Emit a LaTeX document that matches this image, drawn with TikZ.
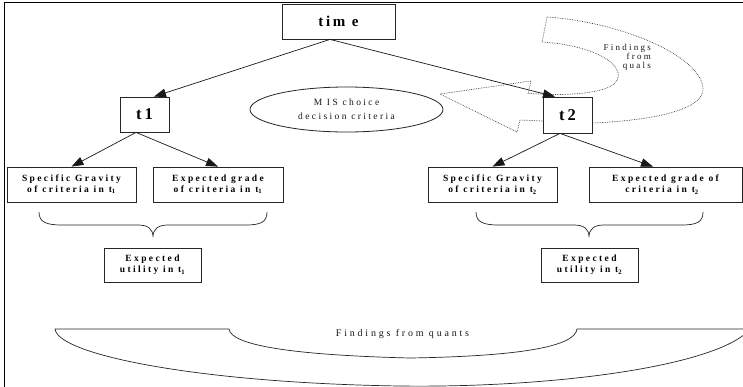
\documentclass[tikz,border=0pt]{standalone}
\usepackage{fontspec}
\setmainfont{Liberation Serif}
\newfontfamily\spfont[LetterSpace=25]{Liberation Serif}
\newfontfamily\spfontq[LetterSpace=28]{Liberation Serif}
\newfontfamily\spfontb[LetterSpace=18]{Liberation Serif}
\usetikzlibrary{arrows.meta,shapes.geometric}
\begin{document}
\begin{tikzpicture}[x=1pt,y=-1pt,
  box/.style={draw=black!85, line width=0.8pt, fill=white, inner sep=0pt, align=center,
    font=\spfont\bfseries\fontsize{9.5}{11}\selectfont, text=black},
  bigbox/.style={box, font=\spfontb\bfseries\fontsize{15}{16}\selectfont},
  tbox/.style={box, font=\spfontb\bfseries\fontsize{16.5}{17}\selectfont},
  arr/.style={-{Triangle[length=12pt,width=8.5pt]}, line width=0.7pt, black!90},
  lbl/.style={font=\spfont\fontsize{9.5}{14}\selectfont, text=black!90, align=center, inner sep=0pt},
  qual/.style={densely dotted, line width=0.7pt, black!75},
  curve/.style={line width=0.7pt, black!85}]
\clip (0,0) rectangle (743,386);
\fill[white] (0,0) rectangle (743,386);
\draw[line width=1.6pt] (4.5,2.5) rectangle (752,394);

% dotted curved block arrow (findings from quals)
\draw[qual] (547,17) -- (542,42)
  .. controls (590,45) and (622,62) .. (618,78)
  .. controls (614,92) and (580,95) .. (547,94.5)
  -- (528,93.3) -- (531,81) -- (440,94) -- (517,132) -- (520,120) -- (543,121)
  -- (593,123) .. controls (660,120) and (705,108) .. (703,88)
  .. controls (700,55) and (620,22) .. cycle;
\node[lbl, font=\spfont\fontsize{9}{13}\selectfont, align=right, anchor=east] (quals) at (651,57) {Findings\\[-4pt]from\\[-4pt]quals};

% nodes
\node[bigbox, minimum width=113pt, minimum height=35pt] (time) at (338.5,21.5) {tim e};
\node[tbox, minimum width=49pt, minimum height=35pt] (t1) at (144.5,114.5) {t1};
\node[tbox, minimum width=49pt, minimum height=36pt] (t2) at (567.5,115) {t2};
\node[draw=black!85, line width=0.8pt, ellipse, minimum width=193pt, minimum height=45pt, inner sep=0pt,
  lbl] (mis) at (346.5,109.5) {M IS choice\\decision criteria};

\node[box, minimum width=129pt, minimum height=35pt] (sg1) at (71.5,184.5) {Specific Gravity\\of criteria in t\textsubscript{1}};
\node[box, minimum width=130pt, minimum height=35pt] (eg1) at (218,184.5) {Expected grade\\of criteria in t\textsubscript{1}};
\node[box, minimum width=129pt, minimum height=35pt] (sg2) at (492.5,184.5) {Specific Gravity\\of criteria in t\textsubscript{2}};
\node[box, minimum width=153pt, minimum height=35pt] (eg2) at (665.5,184.5) {Expected grade of\\criteria in t\textsubscript{2}\hspace*{7pt}};
\node[box, minimum width=97pt, minimum height=34pt] (eu1) at (152.5,265) {Expected\\utility in t\textsubscript{1}};
\node[box, minimum width=97pt, minimum height=34pt] (eu2) at (589.5,265) {Expected\\utility in t\textsubscript{2}};

% connectors
\draw[arr] ([xshift=-8.5pt]time.south) -- ([xshift=9.5pt]t1.north);
\draw[arr] ([xshift=-8.5pt]time.south) -- ([xshift=-12.5pt]t2.north);
\draw[arr] ([xshift=-8.5pt]t1.south) -- (sg1.north);
\draw[arr] ([xshift=-8.5pt]t1.south) -- (eg1.north);
\draw[arr] ([xshift=-7.5pt]t2.south) -- (sg2.north);
\draw[arr] ([xshift=-7.5pt]t2.south) -- ([xshift=-12.5pt]eg2.north);

% braces
\draw[curve] (39,212) .. controls (39,222) and (46,225) .. (62,225) -- (138,225)
  .. controls (148,225) and (153,229) .. (153,237)
  .. controls (153,229) and (158,225) .. (168,225) -- (245,225)
  .. controls (261,225) and (267,222) .. (267,212);
\draw[curve] (476,212) .. controls (476,222) and (483,225) .. (499,225) -- (574,225)
  .. controls (584,225) and (589,229) .. (589,237)
  .. controls (589,229) and (594,225) .. (604,225) -- (681,225)
  .. controls (697,225) and (703,222) .. (703,212);

% big band: findings from quants
\draw[curve] (229,329) -- (55,329) .. controls (58,355) and (200,383) .. (400,386)
  .. controls (560,388) and (720,365) .. (750,329) -- (577,329)
  .. controls (575,345) and (530,356) .. (410,358)
  .. controls (290,355) and (231,345) .. cycle;
\node[lbl, font=\spfontq\fontsize{10}{12}\selectfont] (quants) at (402.5,334) {Findings from quants};
\end{tikzpicture}
\end{document}
